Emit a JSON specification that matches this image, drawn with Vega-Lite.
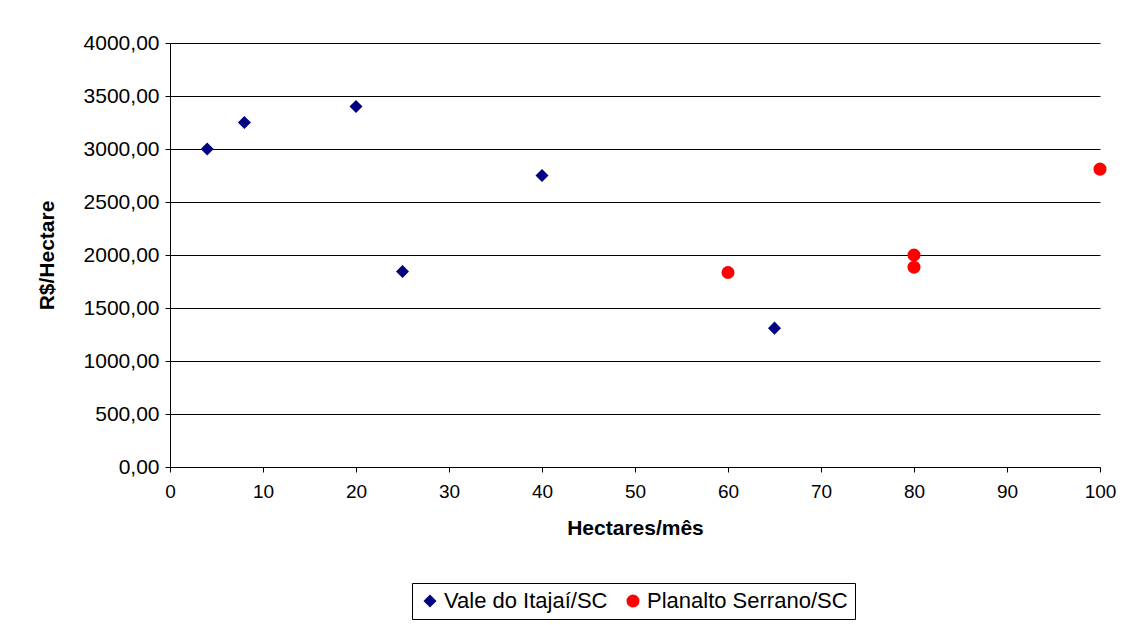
{
  "$schema": "https://vega.github.io/schema/vega-lite/v6.json",
  "width": 930,
  "height": 424,
  "autosize": {"type": "none"},
  "padding": {"left": 170, "top": 43, "right": 23, "bottom": 158},
  "background": "white",
  "config": {
    "view": {"stroke": null},
    "font": "Liberation Sans",
    "axis": {"labelFont": "Liberation Sans", "titleFont": "Liberation Sans", "labelFontSize": 19, "titleFontSize": 21, "labelColor": "#000", "titleColor": "#000", "domainColor": "#000", "tickColor": "#000", "gridColor": "#000", "gridWidth": 1, "tickSize": 5}
  },
  "data": {
    "values": [
      {"ha": 4, "rs": 3000, "regiao": "Vale do Itajaí/SC"},
      {"ha": 8, "rs": 3250, "regiao": "Vale do Itajaí/SC"},
      {"ha": 20, "rs": 3400, "regiao": "Vale do Itajaí/SC"},
      {"ha": 25, "rs": 1845, "regiao": "Vale do Itajaí/SC"},
      {"ha": 40, "rs": 2750, "regiao": "Vale do Itajaí/SC"},
      {"ha": 65, "rs": 1310, "regiao": "Vale do Itajaí/SC"},
      {"ha": 60, "rs": 1835, "regiao": "Planalto Serrano/SC"},
      {"ha": 80, "rs": 2000, "regiao": "Planalto Serrano/SC"},
      {"ha": 80, "rs": 1885, "regiao": "Planalto Serrano/SC"},
      {"ha": 100, "rs": 2810, "regiao": "Planalto Serrano/SC"}
    ]
  },
  "mark": {"type": "point", "filled": true, "opacity": 1},
  "encoding": {
    "x": {
      "field": "ha", "type": "quantitative",
      "scale": {"domain": [0, 100], "nice": false, "zero": false},
      "axis": {"title": "Hectares/mês", "titleFontWeight": "bold", "values": [0,10,20,30,40,50,60,70,80,90,100], "grid": false, "labelPadding": 10, "titlePadding": 16, "labelFlush": false}
    },
    "y": {
      "field": "rs", "type": "quantitative",
      "scale": {"domain": [0, 4000], "nice": false},
      "axis": {"title": "R$/Hectare", "titleFontWeight": "bold", "values": [0,500,1000,1500,2000,2500,3000,3500,4000], "grid": true, "labelExpr": "replace(format(datum.value, '.2f'), '.', ',')", "labelPadding": 6, "labelFontSize": 21, "titlePadding": 26}
    },
    "color": {
      "field": "regiao", "type": "nominal",
      "scale": {"domain": ["Vale do Itajaí/SC", "Planalto Serrano/SC"], "range": ["#000080", "#FF0000"]},
      "legend": {"title": null, "orient": "none", "legendX": 242, "legendY": 540, "direction": "horizontal", "strokeColor": "#000", "padding": 7, "labelFontSize": 22, "labelLimit": 400, "labelFont": "Liberation Sans", "labelColor": "#000", "symbolSize": 150, "columnPadding": 14, "labelOffset": 3, "symbolOpacity": 1}
    },
    "shape": {
      "field": "regiao", "type": "nominal",
      "scale": {"domain": ["Vale do Itajaí/SC", "Planalto Serrano/SC"], "range": ["diamond", "circle"]},
      "legend": null
    },
    "size": {
      "field": "regiao", "type": "nominal",
      "scale": {"domain": ["Vale do Itajaí/SC", "Planalto Serrano/SC"], "range": [170, 170]},
      "legend": null
    }
  }
}
